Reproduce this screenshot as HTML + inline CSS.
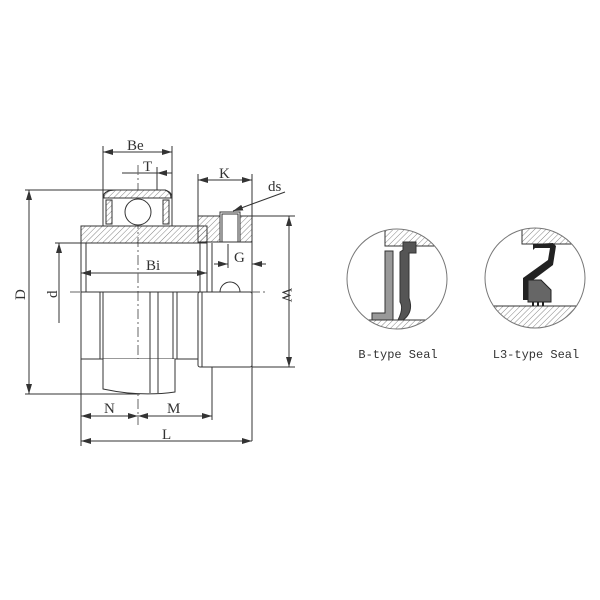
<!DOCTYPE html>
<html><head><meta charset="utf-8"><style>body{margin:0;background:#fff}svg{display:block}text{font-family:"Liberation Serif",serif;fill:#333}</style></head><body>
<svg width="600" height="600" viewBox="0 0 600 600" xmlns="http://www.w3.org/2000/svg">
<defs>
<pattern id="h" width="4" height="4" patternUnits="userSpaceOnUse" patternTransform="rotate(45)"><line x1="0" y1="0" x2="0" y2="4" stroke="#666" stroke-width="0.8"/></pattern>
<marker id="a" markerWidth="10" markerHeight="6" refX="10" refY="3" orient="auto-start-reverse" markerUnits="userSpaceOnUse"><path d="M0,0 L10,3 L0,6z" fill="#333"/></marker>
<clipPath id="c1"><circle cx="397" cy="279" r="50"/></clipPath>
<clipPath id="c2"><circle cx="535" cy="278" r="50"/></clipPath>
</defs>
<g stroke="#333" stroke-width="1" fill="none">
<line x1="103" y1="146" x2="103" y2="200"/><line x1="172" y1="146" x2="172" y2="200"/>
<line x1="157" y1="167" x2="157" y2="200"/>
<line x1="198" y1="174" x2="198" y2="216"/><line x1="252" y1="174" x2="252" y2="441"/>
<line x1="25" y1="190" x2="120" y2="190"/><line x1="25" y1="394" x2="140" y2="394"/>
<line x1="55" y1="243" x2="82" y2="243"/>
<line x1="252" y1="216" x2="295" y2="216"/><line x1="252" y1="367" x2="295" y2="367"/>
<line x1="81" y1="243" x2="81" y2="446"/><line x1="212" y1="243" x2="212" y2="420"/>
<line x1="228" y1="244" x2="228" y2="268"/>
<line x1="103" y1="152" x2="172" y2="152" marker-start="url(#a)" marker-end="url(#a)"/>
<line x1="122" y1="173" x2="157" y2="173"/><line x1="157" y1="173" x2="172" y2="173" marker-start="url(#a)"/>
<line x1="198" y1="180" x2="252" y2="180" marker-start="url(#a)" marker-end="url(#a)"/>
<line x1="29" y1="190" x2="29" y2="394" marker-start="url(#a)" marker-end="url(#a)"/>
<line x1="59" y1="243" x2="59" y2="323" marker-start="url(#a)"/>
<line x1="289" y1="216" x2="289" y2="367" marker-start="url(#a)" marker-end="url(#a)"/>
<line x1="81" y1="273" x2="207" y2="273" marker-start="url(#a)" marker-end="url(#a)"/>
<line x1="214" y1="264" x2="228" y2="264" marker-end="url(#a)"/><line x1="266" y1="264" x2="252" y2="264" marker-end="url(#a)"/>
<line x1="81" y1="416" x2="138" y2="416" marker-start="url(#a)" marker-end="url(#a)"/>
<line x1="138" y1="416" x2="212" y2="416" marker-start="url(#a)" marker-end="url(#a)"/>
<line x1="81" y1="441" x2="252" y2="441" marker-start="url(#a)" marker-end="url(#a)"/>
<line x1="285" y1="192" x2="233" y2="211" marker-end="url(#a)"/>
<line x1="70" y1="292" x2="265" y2="292" stroke-dasharray="10,3,2,3" stroke="#666"/>
<line x1="138" y1="165" x2="138" y2="425" stroke-dasharray="10,3,2,3" stroke="#666"/>
<path d="M103,226 L103,196 Q106,190 115,190 L165,190 Q172,192 172,198 L172,226" fill="#fff"/>
<path d="M104,198 L104,194 Q107,190 115,190 L165,190 Q171,192 171,198 Z" fill="url(#h)"/>
<rect x="106" y="200" width="6" height="24" fill="url(#h)"/><rect x="163" y="200" width="6" height="24" fill="url(#h)"/>
<path d="M106,200 L106,224 M112,200 L112,224 M163,200 L163,224 M169,200 L169,224"/>
<circle cx="138" cy="212" r="13" fill="#fff"/>
<rect x="81" y="226" width="126" height="17" fill="url(#h)"/>
<path d="M81,226 L207,226 L207,243 L81,243 Z"/>
<rect x="198" y="216" width="54" height="26" fill="url(#h)"/>
<rect x="198" y="216" width="54" height="26"/>
<rect x="220" y="212" width="20" height="30" fill="#fff"/>
<path d="M222,214 L238,214 L238,242 L222,242 Z"/>
<line x1="86" y1="243" x2="86" y2="292"/><line x1="200" y1="243" x2="200" y2="292"/><line x1="207" y1="243" x2="207" y2="292"/>
<rect x="81" y="292" width="119" height="67"/>
<line x1="100" y1="292" x2="100" y2="359"/><line x1="103" y1="292" x2="103" y2="359"/>
<line x1="173" y1="292" x2="173" y2="359"/><line x1="177" y1="292" x2="177" y2="359"/>
<path d="M103,359 L103,389 Q140,397 175,392 L175,359" fill="#fff"/>
<line x1="150" y1="292" x2="150" y2="393"/><line x1="158" y1="292" x2="158" y2="393"/>
<rect x="198" y="292" width="54" height="75" rx="2" fill="#fff"/>
<line x1="202" y1="292" x2="202" y2="367"/>
<path d="M220,292 A10,10 0 0 1 240,292"/>
</g>
<g font-size="15">
<text x="127" y="150">Be</text><text x="143" y="171">T</text><text x="219" y="178">K</text>
<text x="268" y="191">ds</text><text x="146" y="270">Bi</text><text x="234" y="262">G</text>
<text x="104" y="413">N</text><text x="167" y="413">M</text><text x="162" y="439">L</text>
<text x="0" y="0" transform="translate(25,300) rotate(-90)">D</text>
<text x="0" y="0" transform="translate(57,298) rotate(-90)">d</text>
<text x="0" y="0" transform="translate(282,288) rotate(90)">W</text>
</g>
<g clip-path="url(#c1)">
<rect x="385" y="230" width="70" height="16" fill="url(#h)"/><path d="M385,230 L385,246 L460,246" stroke="#333" fill="none"/>
<rect x="340" y="320" width="120" height="20" fill="url(#h)"/><line x1="340" y1="320" x2="460" y2="320" stroke="#333"/>
<path d="M385,251 L393,251 L393,320 L372,320 L372,313 L385,313 Z" fill="#999" stroke="#333"/>
<path d="M403,242 L416,242 L416,253 L409,253 L409,298 Q414,312 403,320 L398,320 Q404,308 400,302 L400,252 L403,250Z" fill="#555" stroke="#333"/>
</g>
<circle cx="397" cy="279" r="50" fill="none" stroke="#777"/>
<g clip-path="url(#c2)">
<rect x="522" y="228" width="70" height="16" fill="url(#h)"/><path d="M522,228 L522,244 L590,244" stroke="#333" fill="none"/>
<rect x="480" y="306" width="120" height="30" fill="url(#h)"/><line x1="480" y1="306" x2="600" y2="306" stroke="#333"/>
<path d="M533,244 L553,243 L556,246 L553,265 L533,280 L528,280 L528,300 L523,300 L523,278 L548,260 L550,248 L535,248 L533,250Z" fill="#222"/>
<path d="M528,280 L541,280 L551,290 L551,302 L528,302Z" fill="#666" stroke="#222"/>
<path d="M533,302 L533,306 M538,302 L538,306 M543,302 L543,306" stroke="#222" stroke-width="2"/>
</g>
<circle cx="535" cy="278" r="50" fill="none" stroke="#777"/>
<g font-size="12">
<text x="398" y="358" text-anchor="middle" style="font-family:'Liberation Mono',monospace">B-type Seal</text>
<text x="536" y="358" text-anchor="middle" style="font-family:'Liberation Mono',monospace">L3-type Seal</text>
</g>
</svg>
</body></html>
